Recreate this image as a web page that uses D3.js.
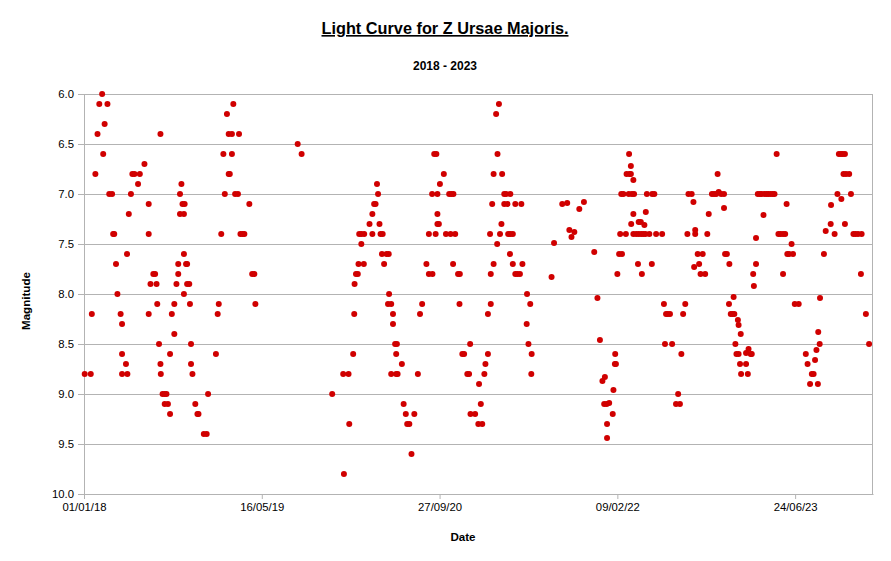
<!DOCTYPE html>
<html>
<head>
<meta charset="utf-8">
<script src="https://cdn.jsdelivr.net/npm/d3@7"></script>
<style>
    body { margin: 0; background: #fff; }
    svg { display: block; font-family: "Liberation Sans", Arial, sans-serif; }
</style>
</head>
<body>
<div id="chart"></div>
<script>
"use strict";

// observations: [days since 01/01/18, magnitude], grouped by year
const obs2018 = [
    [2, 8.8], [19, 8.8], [22, 8.2], [32, 6.8], [38, 6.4], [43, 6.1], [51, 6.0], [54, 6.6], [58, 6.3], [66, 6.1],
    [71, 7.0], [79, 7.0], [82, 7.4], [85, 7.4], [90, 7.7], [94, 8.0], [103, 8.2], [107, 8.3], [107, 8.6], [107, 8.8],
    [118, 8.7], [121, 7.6], [122, 8.8], [126, 7.2], [132, 7.0], [136, 6.8], [142, 6.8], [152, 6.9], [157, 6.8], [170, 6.7],
    [182, 7.1], [182, 7.4], [182, 8.2], [187, 7.9], [195, 7.8], [200, 7.8], [204, 7.9], [206, 8.1], [211, 8.5], [215, 8.7],
    [215, 6.4], [216, 8.8], [221, 9.0], [227, 9.0], [227, 9.1], [232, 9.0], [236, 9.1], [242, 9.2], [242, 8.6], [247, 8.2],
    [254, 8.4], [254, 8.1], [260, 7.9], [265, 7.8], [265, 7.7], [270, 7.0], [270, 7.2], [274, 6.9], [277, 7.1], [281, 7.2],
    [281, 7.6], [281, 8.0], [283, 7.1], [287, 7.7], [290, 7.7], [290, 7.9], [296, 7.9], [298, 8.1], [301, 8.5], [301, 8.7],
    [305, 8.8], [313, 9.1], [319, 9.2], [322, 9.2], [337, 9.4], [345, 9.4], [349, 9.0]
];
const obs2019 = [
    [371, 8.6], [376, 8.2], [379, 8.1], [386, 7.4], [392, 6.6], [396, 7.0], [402, 6.2], [407, 6.4], [407, 6.8], [410, 6.8],
    [416, 6.4], [416, 6.6], [420, 6.1], [425, 7.0], [433, 7.0], [436, 6.4], [440, 7.4], [446, 7.4], [451, 7.4], [465, 7.1],
    [473, 7.8], [479, 7.8], [482, 8.1], [601, 6.5], [612, 6.6], [698, 9.0], [729, 8.8]
];
const obs2020 = [
    [731, 9.8], [744, 8.8], [746, 9.3], [757, 8.6], [760, 8.2], [761, 7.9], [765, 7.8], [770, 7.8], [772, 7.7], [774, 7.4],
    [780, 7.4], [780, 7.5], [787, 7.7], [788, 7.4], [803, 7.3], [811, 7.2], [811, 7.4], [816, 7.1], [820, 7.1], [824, 6.9],
    [827, 7.0], [831, 7.3], [834, 7.4], [838, 7.6], [840, 7.4], [844, 7.7], [851, 7.6], [855, 8.1], [857, 7.6], [858, 8.0],
    [864, 8.1], [864, 8.8], [869, 8.2], [869, 8.3], [875, 8.5], [878, 8.6], [878, 8.8], [880, 8.5], [882, 8.8], [894, 8.7],
    [899, 9.1], [905, 9.2], [909, 9.3], [915, 9.3], [921, 9.6], [929, 9.2], [939, 8.8], [945, 8.2], [951, 8.1], [963, 7.7],
    [970, 7.8], [970, 7.4], [979, 7.0], [980, 7.8], [985, 6.6], [989, 7.4], [991, 6.6], [994, 7.2], [994, 7.3], [994, 7.0],
    [998, 7.3], [1001, 6.9], [1012, 6.8], [1018, 7.4], [1027, 7.0], [1031, 7.4], [1033, 7.0], [1038, 7.7], [1039, 7.0], [1044, 7.4],
    [1052, 7.8], [1056, 8.1], [1057, 7.8], [1064, 8.6], [1069, 8.6], [1078, 8.8], [1083, 8.8], [1086, 8.5], [1087, 9.2]
];
const obs2021 = [
    [1100, 9.2], [1109, 9.3], [1111, 8.9], [1116, 9.1], [1120, 9.3], [1126, 8.8], [1129, 8.7], [1136, 8.6], [1136, 8.2], [1142, 7.4],
    [1144, 8.1], [1144, 7.8], [1148, 7.1], [1152, 7.7], [1152, 6.8], [1159, 6.2], [1162, 7.5], [1163, 6.6], [1167, 6.1], [1170, 7.4],
    [1174, 7.3], [1176, 6.8], [1182, 7.0], [1182, 7.1], [1187, 7.0], [1191, 7.1], [1193, 7.4], [1198, 7.6], [1199, 7.0], [1199, 7.4],
    [1206, 7.4], [1206, 7.7], [1213, 7.1], [1213, 7.8], [1219, 7.8], [1226, 7.8], [1230, 7.1], [1233, 7.7], [1245, 8.3], [1246, 8.0],
    [1250, 8.5], [1255, 8.1], [1258, 8.8], [1259, 8.6], [1315, 7.83], [1322, 7.49], [1345, 7.1], [1359, 7.09], [1365, 7.36], [1371, 7.43],
    [1379, 7.38], [1393, 7.15], [1406, 7.08], [1435, 7.58], [1444, 8.04], [1451, 8.46], [1458, 8.87]
];
const obs2022 = [
    [1463, 9.1], [1465, 8.83], [1470, 9.1], [1471, 9.3], [1471, 9.44], [1477, 9.09], [1487, 9.2], [1489, 8.96], [1493, 8.7], [1494, 8.6],
    [1496, 8.7], [1500, 7.8], [1505, 7.6], [1508, 7.4], [1511, 7.0], [1513, 7.6], [1517, 7.0], [1524, 7.4], [1526, 6.8], [1532, 7.0],
    [1533, 6.6], [1534, 6.8], [1538, 6.72], [1538, 6.8], [1539, 7.3], [1541, 7.0], [1545, 6.86], [1545, 7.2], [1545, 7.4], [1547, 7.0],
    [1553, 7.4], [1558, 7.7], [1560, 7.28], [1560, 7.4], [1566, 7.28], [1567, 7.4], [1569, 7.8], [1573, 7.4], [1576, 7.31], [1579, 7.4],
    [1580, 7.18], [1583, 7.0], [1590, 7.4], [1597, 7.7], [1598, 7.0], [1604, 7.0], [1609, 7.4], [1626, 7.4], [1631, 8.1], [1634, 8.5],
    [1637, 8.2], [1642, 8.2], [1648, 8.2], [1654, 8.5], [1665, 9.1], [1671, 9.0], [1676, 9.1], [1680, 8.6], [1685, 8.2], [1691, 8.1],
    [1697, 7.4], [1700, 7.0], [1709, 7.0], [1714, 7.08], [1716, 7.73], [1719, 7.4], [1719, 7.36], [1726, 7.6], [1730, 7.7], [1734, 7.8],
    [1740, 7.6], [1747, 7.8], [1753, 7.4], [1757, 7.2], [1766, 7.0], [1772, 7.0], [1778, 7.0], [1782, 6.8], [1785, 6.98], [1792, 7.0],
    [1800, 7.0], [1800, 7.14], [1803, 7.6], [1808, 7.6], [1814, 8.1], [1815, 7.7], [1819, 8.2], [1824, 8.2]
];
const obs2023 = [
    [1827, 8.03], [1829, 8.2], [1832, 8.5], [1835, 8.6], [1839, 8.26], [1841, 8.31], [1841, 8.6], [1845, 8.7], [1847, 8.4], [1848, 8.8],
    [1862, 8.59], [1862, 8.7], [1867, 8.8], [1869, 8.55], [1875, 8.6], [1878, 8.6], [1882, 7.8], [1884, 7.92], [1890, 7.7], [1890, 7.44],
    [1895, 7.0], [1901, 7.0], [1906, 7.0], [1911, 7.21], [1914, 7.0], [1920, 7.0], [1925, 7.0], [1931, 7.0], [1937, 7.0], [1942, 7.0],
    [1948, 6.6], [1953, 7.4], [1959, 7.4], [1966, 7.4], [1966, 7.8], [1972, 7.4], [1976, 7.1], [1978, 7.6], [1983, 7.6], [1990, 7.5],
    [1994, 7.6], [1999, 8.1], [2010, 8.1], [2030, 8.6], [2035, 8.7], [2042, 8.9], [2047, 8.8], [2052, 8.8], [2056, 8.66], [2060, 8.56],
    [2064, 8.9], [2065, 8.38], [2069, 8.5], [2070, 8.04], [2081, 7.6], [2086, 7.37], [2100, 7.3], [2101, 7.11], [2111, 7.4], [2119, 7.0],
    [2123, 6.6], [2129, 6.6], [2130, 7.05], [2134, 6.6], [2136, 6.8], [2140, 6.6], [2140, 7.3], [2143, 6.8], [2152, 6.8], [2157, 7.0],
    [2164, 7.4], [2170, 7.4], [2177, 7.4], [2185, 7.8], [2187, 7.4]
];
const obs2024 = [
    [2199, 8.2], [2208, 8.5]
];

const startDate = "01/01/18";
const lastDay = 2219;
const xTickLabels = ["01/01/18", "16/05/19", "27/09/20", "09/02/22", "24/06/23"];
const yTicks = [6.0, 6.5, 7.0, 7.5, 8.0, 8.5, 9.0, 9.5, 10.0];
const magRange = [6.0, 10.0];

(function () {
    const width = 891;
    const height = 561;
    const margin = { top: 94, right: 18, bottom: 67, left: 84 };
    const plotW = width - margin.left - margin.right;
    const plotH = height - margin.top - margin.bottom;
    const grey = "#b3b3b3";
    const red = "#d00000";

    const parseDate = d3.utcParse("%d/%m/%y");
    const formatDate = d3.utcFormat("%d/%m/%y");
    const t0 = parseDate(startDate);
    const dayToDate = d => d3.utcDay.offset(t0, d);

    const points = [].concat(obs2018, obs2019, obs2020, obs2021, obs2022, obs2023, obs2024);

    const x = d3.scaleUtc()
        .domain([t0, dayToDate(lastDay)])
        .range([0, plotW]);
    const y = d3.scaleLinear()
        .domain(magRange)
        .range([0, plotH]);

    const svg = d3.select("#chart")
        .append("svg")
        .attr("width", width)
        .attr("height", height);

    // titles
    svg.append("text")
        .attr("x", 445)
        .attr("y", 34)
        .attr("text-anchor", "middle")
        .attr("font-size", "16.3px")
        .attr("font-weight", "bold")
        .attr("text-decoration", "underline")
        .text("Light Curve for Z Ursae Majoris.");
    svg.append("text")
        .attr("x", 445)
        .attr("y", 70)
        .attr("text-anchor", "middle")
        .attr("font-size", "12px")
        .attr("font-weight", "bold")
        .text("2018 - 2023");

    const plot = svg.append("g")
        .attr("transform", `translate(${margin.left},${margin.top})`);

    // horizontal grid
    plot.append("g")
        .selectAll("line")
        .data(yTicks)
        .enter()
        .append("line")
        .attr("x1", 0)
        .attr("x2", plotW)
        .attr("y1", d => Math.round(y(d)) + 0.5)
        .attr("y2", d => Math.round(y(d)) + 0.5)
        .attr("stroke", grey);

    // frame
    plot.append("rect")
        .attr("x", 0.5)
        .attr("y", 0.5)
        .attr("width", plotW - 1)
        .attr("height", plotH)
        .attr("fill", "none")
        .attr("stroke", grey);

    const yAxis = d3.axisLeft(y)
        .tickValues(yTicks)
        .tickFormat(d3.format(".1f"))
        .tickSizeInner(6)
        .tickSizeOuter(0)
        .tickPadding(4);
    const gy = plot.append("g").call(yAxis);

    const xAxis = d3.axisBottom(x)
        .tickValues(xTickLabels.map(parseDate))
        .tickFormat(formatDate)
        .tickSizeInner(5)
        .tickSizeOuter(0)
        .tickPadding(4);
    const gx = plot.append("g")
        .attr("transform", `translate(0,${plotH})`)
        .call(xAxis);

    [gx, gy].forEach(g => {
        g.select(".domain").attr("stroke", grey);
        g.selectAll(".tick line").attr("stroke", grey);
        g.selectAll(".tick text")
            .attr("fill", "#000")
            .attr("font-size", "11.3px")
            .attr("font-family", "Liberation Sans, Arial, sans-serif");
    });

    // axis titles
    svg.append("text")
        .attr("transform", "translate(30,301) rotate(-90)")
        .attr("text-anchor", "middle")
        .attr("font-size", "11.6px")
        .attr("font-weight", "bold")
        .text("Magnitude");
    svg.append("text")
        .attr("x", 463)
        .attr("y", 541)
        .attr("text-anchor", "middle")
        .attr("font-size", "11.6px")
        .attr("font-weight", "bold")
        .text("Date");

    // observations
    plot.append("g")
        .selectAll("circle")
        .data(points)
        .enter()
        .append("circle")
        .attr("cx", d => x(dayToDate(d[0])))
        .attr("cy", d => y(d[1]))
        .attr("r", 3)
        .attr("fill", red);
})();
</script>
</body>
</html>
